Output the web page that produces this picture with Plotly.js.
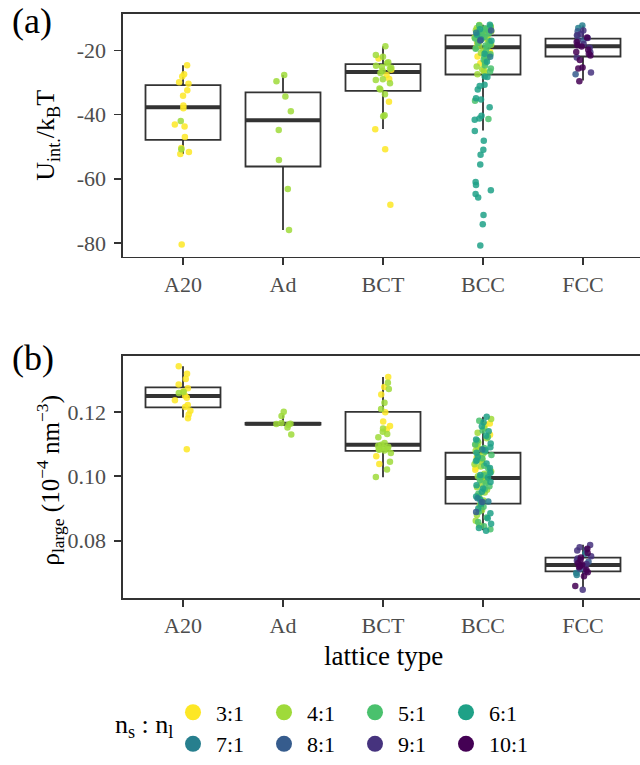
<!DOCTYPE html>
<html><head><meta charset="utf-8">
<script src="https://cdn.plot.ly/plotly-3.0.1.min.js"></script>
<style>html,body{margin:0;padding:0;background:#fff;} #chart{width:640px;height:765px;}</style>
</head><body><div id="chart"></div>
<script>
// ---------- categories / labels ----------
const lattices = ['A20', 'Ad', 'BCT', 'BCC', 'FCC'];
const ratios = ['3:1', '4:1', '5:1', '6:1', '7:1', '8:1', '9:1', '10:1'];
const ratioColors = ['#FDE725', '#9FDA3A', '#4AC16D', '#1FA187', '#277F8E', '#365C8D', '#46337E', '#440154'];
const yTicksA = [-80, -60, -40, -20];
const yTickTextA = ['-80', '-60', '-40', '-20'];
const yTicksB = [0.08, 0.10, 0.12];
const yTickTextB = ['0.08', '0.10', '0.12'];

// ---------- panel (a): U_int / kBT ----------
const U_A20_3 = [-24.6, -27.4, -28.1, -29.9, -30.4, -32.4, -34.1, -37.2, -38.0, -43.1, -43.7, -47.0, -50.4, -51.7, -52.3, -80.5];
const U_A20_4 = [-42.0, -50.8];
const U_Ad_4 = [-27.7, -29.6, -34.4, -39.0, -44.8, -54.2, -63.2, -76.0];
const U_BCT_3 = [-22.5, -26.0, -27.7, -28.9, -36.0, -44.6, -50.8, -68.1];
const U_BCT_4 = [-18.7, -21.4, -22.0, -23.7, -24.0, -24.8, -25.2, -25.4, -25.7, -26.3, -27.0, -29.0, -29.2, -30.2, -31.9, -32.2, -33.7, -40.2, -40.5];
const U_BCC_3 = [-13.5, -16.2, -17.5, -20.5, -21.9, -24.0, -26.2];
const U_BCC_4 = [-12.1, -12.4, -12.8, -13.0, -13.3, -13.7, -14.0, -14.3, -14.6, -14.9, -15.2, -15.6, -16.0, -16.4, -16.9, -17.3, -17.8, -18.2, -18.6, -19.2, -20.0, -20.8, -21.5, -22.3, -23.2, -24.1, -25.0, -25.9, -26.8, -27.4];
const U_BCC_5 = [-12.2, -12.6, -13.1, -13.5, -13.9, -14.2, -14.7, -15.0, -15.4, -15.8, -16.3, -16.7, -17.2, -17.7, -18.1, -18.5, -18.9, -19.5, -20.3, -21.2, -22.0, -22.9, -23.8, -24.7, -25.6, -26.6, -35.7, -41.4];
const U_BCC_6 = [-12.0, -13.4, -15.1, -17.0, -21.0, -23.5, -28.1, -28.3, -30.7, -31.1, -32.2, -34.9, -35.3, -37.7, -40.4, -41.2, -41.6, -45.1, -48.2, -51.0, -52.5, -55.6, -61.0, -62.0, -63.6, -64.8, -65.9, -71.3, -74.2, -80.8];
const U_BCC_7 = [-14.5, -16.6, -22.0];
const U_BCC_8 = [-13.8, -16.9];
const U_FCC_7 = [-12.2, -13.0, -15.5];
const U_FCC_8 = [-14.0, -16.8, -27.4];
const U_FCC_9 = [-13.8, -14.9, -15.3, -16.1, -17.0, -18.0, -19.2, -20.6, -22.2, -26.9];
const U_FCC_10 = [-16.0, -17.4, -18.4, -18.8, -19.8, -20.5, -21.0, -21.6, -23.0, -25.3, -25.6, -29.6];

// box statistics, in lattice order
const boxA_q1 = [-47.9, -56.2, -32.6, -27.5, -21.9];
const boxA_med = [-37.7, -41.8, -26.7, -19.0, -18.7];
const boxA_q3 = [-30.8, -33.1, -24.3, -15.3, -16.3];
const boxA_lo = [-52.3, -76.0, -44.5, -45.0, -29.4];
const boxA_hi = [-24.6, -27.7, -18.7, -12.0, -12.2];

// ---------- panel (b): rho_large ----------
const R_A20_3 = [0.1341, 0.1318, 0.1302, 0.1285, 0.1273, 0.1263, 0.1250, 0.1244, 0.1236, 0.1221, 0.1215, 0.1203, 0.1192, 0.1180, 0.1084];
const R_A20_4 = [0.1258, 0.1262];
const R_Ad_4 = [0.1200, 0.1187, 0.1165, 0.1163, 0.1162, 0.1160, 0.1151, 0.1130];
const R_BCT_3 = [0.1308, 0.1277, 0.1254, 0.1199, 0.1170, 0.1156, 0.1146, 0.1062, 0.1038];
const R_BCT_4 = [0.1290, 0.1271, 0.1228, 0.1209, 0.1148, 0.1138, 0.1131, 0.1121, 0.1103, 0.1098, 0.1095, 0.1092, 0.1088, 0.1085, 0.1084, 0.1082, 0.1080, 0.1072, 0.1045, 0.1021, 0.0998];
const R_BCC_3 = [0.1164, 0.1160, 0.1129, 0.1097, 0.1058, 0.1027, 0.1020];
const R_BCC_4 = [0.1178, 0.1150, 0.1135, 0.1118, 0.1105, 0.1092, 0.1085, 0.1079, 0.1070, 0.1063, 0.1052, 0.1044, 0.1037, 0.1030, 0.1015, 0.1008, 0.1000, 0.0993, 0.0985, 0.0975, 0.0966, 0.0958, 0.0950, 0.0940, 0.0925, 0.0910, 0.0895, 0.0880, 0.0862, 0.0848];
const R_BCC_5 = [0.1172, 0.1142, 0.1122, 0.1110, 0.1099, 0.1088, 0.1076, 0.1066, 0.1056, 0.1047, 0.1033, 0.1024, 0.1012, 0.1003, 0.0997, 0.0988, 0.0979, 0.0969, 0.0960, 0.0946, 0.0934, 0.0920, 0.0905, 0.0890, 0.0872, 0.0858, 0.0845, 0.0836];
const R_BCC_6 = [0.1185, 0.1168, 0.1155, 0.1140, 0.1126, 0.1114, 0.1102, 0.1090, 0.1081, 0.1073, 0.1060, 0.1049, 0.1040, 0.1026, 0.1011, 0.1004, 0.0996, 0.0982, 0.0972, 0.0962, 0.0952, 0.0937, 0.0928, 0.0915, 0.0900, 0.0885, 0.0870, 0.0853, 0.0840, 0.0831];
const R_BCC_7 = [0.1083, 0.0932, 0.0922];
const R_BCC_8 = [0.0920, 0.0889];
const R_FCC_7 = [0.0760, 0.0700, 0.0694];
const R_FCC_8 = [0.0772, 0.0735, 0.0712];
const R_FCC_9 = [0.0787, 0.0780, 0.0770, 0.0752, 0.0745, 0.0738, 0.0728, 0.0720, 0.0705, 0.0648];
const R_FCC_10 = [0.0775, 0.0762, 0.0748, 0.0740, 0.0730, 0.0726, 0.0722, 0.0718, 0.0710, 0.0702, 0.0690, 0.0660];

// box statistics
const boxB_q1 = [0.1214, 0.1160, 0.1079, 0.0915, 0.0705];
const boxB_med = [0.1249, 0.1163, 0.1098, 0.0995, 0.0725];
const boxB_q3 = [0.1276, 0.1166, 0.1200, 0.1073, 0.0748];
const boxB_lo = [0.1182, 0.1160, 0.0997, 0.0833, 0.0656];
const boxB_hi = [0.1341, 0.1189, 0.1308, 0.1185, 0.0788];

// ---------- assembly ----------
const groupsA = [
  ['A20', '3:1', U_A20_3], ['A20', '4:1', U_A20_4], ['Ad', '4:1', U_Ad_4],
  ['BCT', '3:1', U_BCT_3], ['BCT', '4:1', U_BCT_4],
  ['BCC', '3:1', U_BCC_3], ['BCC', '4:1', U_BCC_4], ['BCC', '5:1', U_BCC_5], ['BCC', '6:1', U_BCC_6], ['BCC', '7:1', U_BCC_7], ['BCC', '8:1', U_BCC_8],
  ['FCC', '7:1', U_FCC_7], ['FCC', '8:1', U_FCC_8], ['FCC', '9:1', U_FCC_9], ['FCC', '10:1', U_FCC_10]
];
const groupsB = [
  ['A20', '3:1', R_A20_3], ['A20', '4:1', R_A20_4], ['Ad', '4:1', R_Ad_4],
  ['BCT', '3:1', R_BCT_3], ['BCT', '4:1', R_BCT_4],
  ['BCC', '3:1', R_BCC_3], ['BCC', '4:1', R_BCC_4], ['BCC', '5:1', R_BCC_5], ['BCC', '6:1', R_BCC_6], ['BCC', '7:1', R_BCC_7], ['BCC', '8:1', R_BCC_8],
  ['FCC', '7:1', R_FCC_7], ['FCC', '8:1', R_FCC_8], ['FCC', '9:1', R_FCC_9], ['FCC', '10:1', R_FCC_10]
];

const FONT = '"Liberation Serif", "Times New Roman", serif';
const BOXW = 0.75;
const JW = 0.085;
let seed = 1;
function jitter() { // deterministic horizontal jitter
  const s = Math.sin(seed++ * 12.9898 + 78.233) * 43758.5453;
  return (s - Math.floor(s) - 0.5) * 2 * JW;
}
const pos = lattices.map((_, i) => i + 1);

function boxTrace(q1, med, q3, lo, hi, xa, ya) {
  return {
    type: 'box', x: pos, q1: q1, median: med, q3: q3, lowerfence: lo, upperfence: hi,
    width: BOXW, whiskerwidth: 0, fillcolor: '#ffffff', boxpoints: false,
    line: {color: '#333333', width: 1.8}, xaxis: xa, yaxis: ya, showlegend: false, hoverinfo: 'skip'
  };
}
function medianTrace(med, xa, ya) {
  const x = [], y = [];
  med.forEach((m, i) => { x.push(pos[i] - BOXW / 2, pos[i] + BOXW / 2, null); y.push(m, m, null); });
  return {type: 'scatter', mode: 'lines', x: x, y: y, line: {color: '#333333', width: 4},
    xaxis: xa, yaxis: ya, showlegend: false, hoverinfo: 'skip'};
}
function pointTraces(groups, xa, ya) {
  return ratios.map((r, k) => {
    const x = [], y = [];
    groups.filter(g => g[1] === r).forEach(g => {
      const c = lattices.indexOf(g[0]) + 1;
      g[2].forEach(v => { x.push(c + jitter()); y.push(v); });
    });
    return {type: 'scatter', mode: 'markers', x: x, y: y, xaxis: xa, yaxis: ya,
      marker: {color: ratioColors[k], size: 6.5, opacity: 0.85, line: {width: 0}},
      showlegend: false, hoverinfo: 'skip'};
  });
}
const legendTraces = ratios.map((r, k) => ({
  type: 'scatter', mode: 'markers', x: [null], y: [null], name: r,
  marker: {color: ratioColors[k], size: 16},
  legend: k < 4 ? 'legend' : 'legend2', showlegend: true, hoverinfo: 'skip'
}));

const data = [
  boxTrace(boxA_q1, boxA_med, boxA_q3, boxA_lo, boxA_hi, 'x', 'y'),
  medianTrace(boxA_med, 'x', 'y'),
  ...pointTraces(groupsA, 'x', 'y'),
  boxTrace(boxB_q1, boxB_med, boxB_q3, boxB_lo, boxB_hi, 'x2', 'y2'),
  medianTrace(boxB_med, 'x2', 'y2'),
  ...pointTraces(groupsB, 'x2', 'y2'),
  ...legendTraces
];

const W = 640, H = 765;
const px = v => v / W, py = v => 1 - v / H;
const tickFont = {family: FONT, size: 22, color: '#4D4D4D'};
function xAxis(anchor) {
  return {domain: [px(123), 1], anchor: anchor, range: [0.4, 5.57], tickmode: 'array', tickvals: pos, ticktext: lattices,
    showline: true, mirror: true, linecolor: '#333333', linewidth: 1.6, ticks: 'outside', ticklen: 7, tickwidth: 1.6,
    tickcolor: '#333333', showgrid: false, zeroline: false, tickfont: tickFont, fixedrange: true};
}
function yAxis(anchor, dom, range, tv, tt) {
  return {domain: dom, anchor: anchor, range: range, tickmode: 'array', tickvals: tv, ticktext: tt,
    showline: true, mirror: false, linecolor: '#333333', linewidth: 1.6, ticks: 'outside', ticklen: 7, tickwidth: 1.6,
    tickcolor: '#333333', showgrid: false, zeroline: false, tickfont: tickFont, fixedrange: true, ticklabelstandoff: 4};
}
const legendBase = {orientation: 'h', xanchor: 'left', yanchor: 'middle', x: px(170),
  entrywidth: 40, entrywidthmode: 'pixels', itemwidth: 36, font: {family: FONT, size: 22, color: '#000'},
  bgcolor: 'rgba(0,0,0,0)', borderwidth: 0, traceorder: 'normal', itemclick: false, itemdoubleclick: false};

const layout = {
  width: W, height: H, margin: {l: 0, r: 0, t: 0, b: 0},
  paper_bgcolor: '#ffffff', plot_bgcolor: '#ffffff', showlegend: true,
  xaxis: xAxis('y'),
  yaxis: yAxis('x', [py(259), py(14)], [-84.3, -8.6], yTicksA, yTickTextA),
  xaxis2: xAxis('y2'),
  yaxis2: yAxis('x2', [py(604), py(359)], [0.0621, 0.1374], yTicksB, yTickTextB),
  legend: Object.assign({}, legendBase, {y: py(719)}),
  legend2: Object.assign({}, legendBase, {y: py(751)}),
  annotations: [
    {text: '(a)', x: px(10), y: py(21), xref: 'paper', yref: 'paper', xanchor: 'left', yanchor: 'middle', showarrow: false, font: {family: FONT, size: 36, color: '#000'}},
    {text: '(b)', x: px(10), y: py(361), xref: 'paper', yref: 'paper', xanchor: 'left', yanchor: 'middle', showarrow: false, font: {family: FONT, size: 36, color: '#000'}},
    {text: 'U<sub>int.</sub>/k<sub>B</sub>T', x: px(47), y: py(137), xref: 'paper', yref: 'paper', xanchor: 'center', yanchor: 'middle', textangle: -90, showarrow: false, font: {family: FONT, size: 26, color: '#000'}},
    {text: 'ρ<sub>large</sub> (10<sup>−4</sup> nm<sup>−3</sup>)', x: px(50), y: py(485), xref: 'paper', yref: 'paper', xanchor: 'center', yanchor: 'middle', textangle: -90, showarrow: false, font: {family: FONT, size: 25, color: '#000'}},
    {text: 'lattice type', x: px(383), y: py(662), xref: 'paper', yref: 'paper', xanchor: 'center', yanchor: 'middle', showarrow: false, font: {family: FONT, size: 27, color: '#000'}},
    {text: 'n<sub>s</sub> : n<sub>l</sub>', x: px(144), y: py(733), xref: 'paper', yref: 'paper', xanchor: 'center', yanchor: 'middle', showarrow: false, font: {family: FONT, size: 26, color: '#000'}}
  ]
};

Plotly.newPlot('chart', data, layout, {staticPlot: true, displayModeBar: false});
</script>
</body></html>
